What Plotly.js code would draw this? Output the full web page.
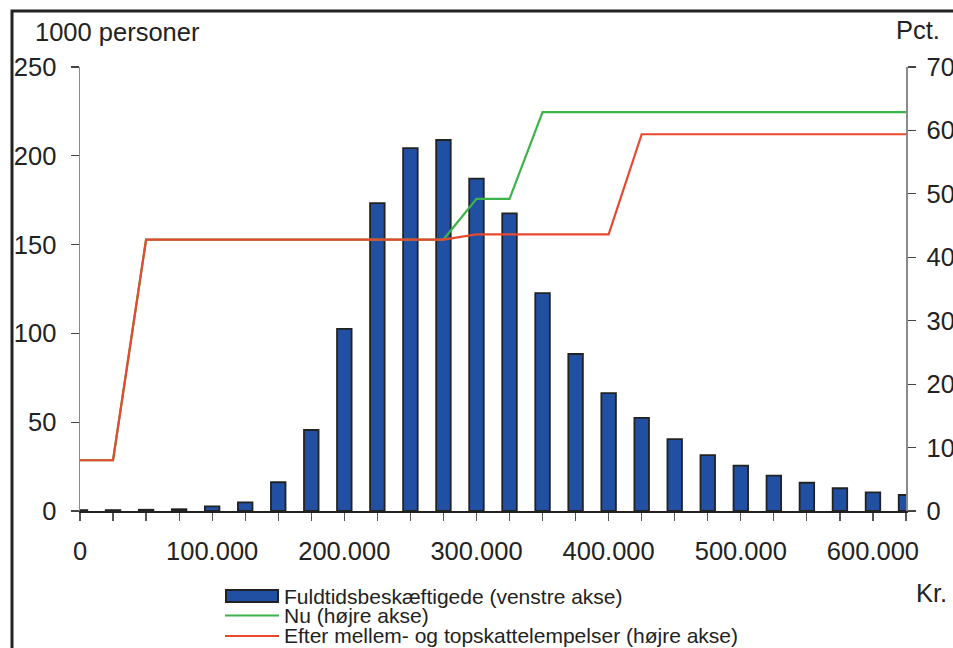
<!DOCTYPE html>
<html>
<head>
<meta charset="utf-8">
<script src="https://cdn.plot.ly/plotly-3.0.1.min.js"></script>
<style>
  html, body { margin: 0; padding: 0; background: #fff; }
  #chart { width: 953px; height: 648px; }
</style>
</head>
<body>
<div id="chart"></div>
<script>
// Income groups (kr.)
const incomes = [0, 25000, 50000, 75000, 100000, 125000, 150000, 175000, 200000, 225000,
                 250000, 275000, 300000, 325000, 350000, 375000, 400000, 425000, 450000, 475000,
                 500000, 525000, 550000, 575000, 600000, 625000];

// Full-time employed, 1000 persons (left axis)
const employed = [0.5, 0.5, 0.7, 1.0, 2.6, 4.9, 16.2, 45.6, 102.5, 173.3,
                  204.3, 208.9, 187.1, 167.6, 122.7, 88.4, 66.4, 52.4, 40.5, 31.5,
                  25.5, 19.9, 15.9, 12.8, 10.5, 9.0];

// Marginal tax rate now, pct. (right axis)
const rateNow = [8, 8, 42.8, 42.8, 42.8, 42.8, 42.8, 42.8, 42.8, 42.8,
                 42.8, 42.8, 49.2, 49.2, 62.9, 62.9, 62.9, 62.9, 62.9, 62.9,
                 62.9, 62.9, 62.9, 62.9, 62.9, 62.9];

// Marginal tax rate after the middle and top tax relief, pct. (right axis)
const rateAfter = [8, 8, 42.8, 42.8, 42.8, 42.8, 42.8, 42.8, 42.8, 42.8,
                   42.8, 42.8, 43.6, 43.6, 43.6, 43.6, 43.6, 59.4, 59.4, 59.4,
                   59.4, 59.4, 59.4, 59.4, 59.4, 59.4];

const xTickText = ['0', '', '', '', '100.000', '', '', '', '200.000', '', '', '', '300.000',
                   '', '', '', '400.000', '', '', '', '500.000', '', '', '', '600.000', ''];

const seriesNames = ['Fuldtidsbeskæftigede (venstre akse)', 'Nu (højre akse)',
                     'Efter mellem- og topskattelempelser (højre akse)'];

const BLUE = '#2150a3', GREEN = '#3cb44b', RED = '#e9482e', INK = '#222222';
const FONT = 'Liberation Sans, Arial, Helvetica, sans-serif';

// plot area in pixels: left 80, right 906, top 67, bottom 511
const W = 953, H = 648, L = 80, R = 906, T = 67, B = 511;
const px = x => (x - L) / (R - L);
const py = y => (B - y) / (B - T);

const traces = [
  {
    type: 'bar', name: seriesNames[0], x: incomes, y: employed, yaxis: 'y',
    marker: { color: BLUE, line: { color: INK, width: 1.8 } },
    hoverinfo: 'x+y'
  },
  {
    type: 'scatter', mode: 'lines', name: seriesNames[1], x: incomes, y: rateNow, yaxis: 'y2',
    line: { color: GREEN, width: 2.2 }
  },
  {
    type: 'scatter', mode: 'lines', name: seriesNames[2], x: incomes, y: rateAfter, yaxis: 'y2',
    line: { color: RED, width: 2.2 }
  }
];

const tickFont = { family: FONT, size: 25.5, color: INK };

const annText = (text, x, y, size) => ({
  text: text, xref: 'paper', yref: 'paper', x: px(x), y: py(y),
  xanchor: 'left', yanchor: 'middle', showarrow: false,
  font: { family: FONT, size: size, color: INK }
});

const layout = {
  width: W, height: H, autosize: false,
  margin: { l: L, r: W - R, t: T, b: H - B, pad: 0 },
  paper_bgcolor: '#fff', plot_bgcolor: '#fff',
  showlegend: false,
  bargap: 0.56,
  xaxis: {
    range: [0, 625000], tickmode: 'array', tickvals: incomes, ticktext: xTickText,
    showgrid: false, zeroline: false, showline: true, linecolor: INK, linewidth: 1.5,
    ticks: 'outside', ticklen: 8, tickcolor: '#555', tickwidth: 1.2,
    tickfont: tickFont, ticklabelstandoff: 9, fixedrange: true
  },
  yaxis: {
    range: [0, 250], dtick: 50, showgrid: false, zeroline: false,
    showline: true, linecolor: '#8a8a8a', linewidth: 1.5,
    ticks: 'outside', ticklen: 8, tickcolor: '#444', tickwidth: 1.2,
    tickfont: tickFont, ticklabelstandoff: 9, fixedrange: true
  },
  yaxis2: {
    range: [0, 70], dtick: 10, overlaying: 'y', side: 'right', anchor: 'x',
    showgrid: false, zeroline: false,
    showline: true, linecolor: '#8a8a8a', linewidth: 1.5,
    ticks: 'outside', ticklen: 8, tickcolor: '#444', tickwidth: 1.2,
    tickfont: tickFont, ticklabelstandoff: 6, fixedrange: true
  },
  shapes: [
    // outer frame
    { type: 'rect', xref: 'paper', yref: 'paper', x0: px(12), x1: px(1000), y0: py(700), y1: py(11),
      line: { color: INK, width: 3 }, fillcolor: 'rgba(0,0,0,0)', layer: 'above' },
    // legend keys
    { type: 'rect', xref: 'paper', yref: 'paper', x0: px(226), x1: px(278), y0: py(602), y1: py(590),
      line: { color: INK, width: 2 }, fillcolor: BLUE },
    { type: 'line', xref: 'paper', yref: 'paper', x0: px(225), x1: px(279), y0: py(615.5), y1: py(615.5),
      line: { color: GREEN, width: 2.2 } },
    { type: 'line', xref: 'paper', yref: 'paper', x0: px(225), x1: px(279), y0: py(636), y1: py(636),
      line: { color: RED, width: 2.2 } }
  ],
  annotations: [
    annText('1000 personer', 33, 32, 25.5),
    annText('Pct.', 894, 30, 25.5),
    annText('Kr.', 914, 593, 25.5),
    annText(seriesNames[0], 282, 596, 21),
    annText(seriesNames[1], 282, 615, 21),
    annText(seriesNames[2], 282, 635, 21)
  ]
};

Plotly.newPlot('chart', traces, layout, { displayModeBar: false, staticPlot: true });
</script>
</body>
</html>
